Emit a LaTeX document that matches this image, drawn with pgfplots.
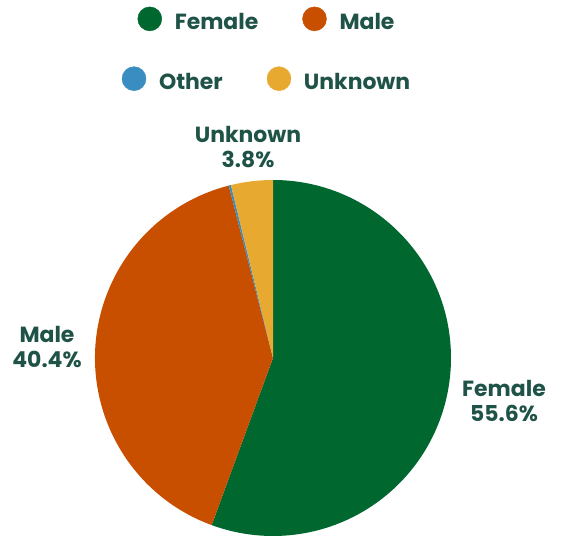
\documentclass[border=0pt]{standalone}
\usepackage{pgfplots}
\pgfplotsset{compat=1.18}
\usepackage{pgfplotstable}
\usepackage{fontspec}
\setmainfont{Poppins}

\definecolor{female}{HTML}{00672F}
\definecolor{male}{HTML}{C84E00}
\definecolor{other}{HTML}{3A8DC0}
\definecolor{unknown}{HTML}{E8A931}
\definecolor{textcol}{HTML}{1F5347}

% share of each group, in percent
\pgfplotstableread{
label value color
Female 55.6 female
Male 40.4 male
Other 0.2 other
Unknown 3.8 unknown
}\piedata

\newcommand{\bigfont}{\bfseries\fontsize{22}{25}\selectfont}

\pgfplotsset{
  dotlegend/.style={
    hide axis, clip=false, scale only axis,
    at={(0,0)}, anchor=south west,
    x=1bp, y=1bp, xmin=0, xmax=561, ymin=0, ymax=539,
    legend columns=2,
    legend style={draw=none, fill=none, text=textcol, font=\bigfont,
      anchor=center, inner sep=0pt,
      /tikz/every even column/.append style={column sep=42bp}},
  },
}

\begin{document}
\begin{tikzpicture}
\useasboundingbox (0,0) rectangle (561bp,539bp);

\begin{axis}[dotlegend, legend style={at={(0.476,0.963)}}]
  \pgfplotstablegetrowsof{\piedata}
  \pgfmathtruncatemacro\lastrow{\pgfplotsretval-1}
  \def\cum{0}
  \pgfplotsforeachungrouped \i in {0,...,\lastrow}{
    \pgfplotstablegetelem{\i}{value}\of\piedata \let\v\pgfplotsretval
    \pgfplotstablegetelem{\i}{color}\of\piedata \let\c\pgfplotsretval
    \pgfmathsetmacro\a{90-3.6*\cum}
    \pgfmathsetmacro\b{90-3.6*(\cum+\v)}
    \edef\temp{\noexpand\fill[\c] (axis cs:273,181) -- ++(\a:178bp)
      arc[start angle=\a, end angle=\b, radius=178bp] -- cycle;}
    \temp
    \pgfmathsetmacro\cum{\cum+\v}
  }
  \addlegendimage{legend image code/.code={\path[draw=none,fill=none] (0,0) -- (35bp,0);\fill[female] (12bp,0.35em) circle (12bp);}}
  \addlegendentry{Female}
  \addlegendimage{legend image code/.code={\path[draw=none,fill=none] (0,0) -- (35bp,0);\fill[male] (12bp,0.35em) circle (12bp);}}
  \addlegendentry{Male}

  \node[align=center, text=textcol, font=\bigfont] at (axis cs:504,138) {Female\\55.6\%};
  \node[align=center, text=textcol, font=\bigfont] at (axis cs:47,192) {Male\\40.4\%};
  \node[align=center, text=textcol, font=\bigfont] at (axis cs:248,392) {Unknown\\3.8\%};
\end{axis}

\begin{axis}[dotlegend, legend style={at={(0.476,0.852)}}]
  \addlegendimage{legend image code/.code={\path[draw=none,fill=none] (0,0) -- (35bp,0);\fill[other] (12bp,0.35em) circle (12bp);}}
  \addlegendentry{Other}
  \addlegendimage{legend image code/.code={\path[draw=none,fill=none] (0,0) -- (35bp,0);\fill[unknown] (12bp,0.35em) circle (12bp);}}
  \addlegendentry{Unknown}
\end{axis}
\end{tikzpicture}
\end{document}
